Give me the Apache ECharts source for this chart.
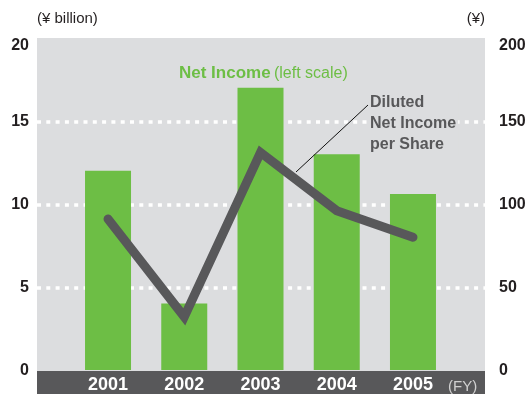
<!DOCTYPE html>
<html>
<head>
<meta charset="utf-8">
<script src="https://cdn.jsdelivr.net/npm/echarts@6/dist/echarts.min.js"></script>
<style>
  html, body { margin: 0; padding: 0; background: #ffffff; }
  #chart { width: 529px; height: 394px; }
</style>
</head>
<body>
<div id="chart"></div>
<script>
// Fiscal years on the category axis
const years = ['2001', '2002', '2003', '2004', '2005'];
// Net income, ¥ billion (left scale)
const netIncome = [12.0, 4.0, 17.0, 13.0, 10.6];
// Diluted net income per share, ¥ (right scale)
const epsDiluted = [91, 32, 131, 96, 80];
// Tick settings for both value scales
const leftTicks = { min: 0, max: 20, interval: 5 };
const rightTicks = { min: 0, max: 200, interval: 50 };

const GREEN = '#6dbe45';
const DARK = '#58585a';
const PANEL = '#dcdddf';
const FONT = '"Liberation Sans", Arial, sans-serif';

const chart = echarts.init(document.getElementById('chart'), null, { renderer: 'canvas' });

const tickLabel = {
  color: '#231f20',
  fontFamily: FONT,
  fontSize: 16,
  fontWeight: 'bold',
  verticalAlignMaxLabel: 'top',
  verticalAlignMinLabel: 'middle'
};

chart.setOption({
  animation: false,
  grid: [
    // panel: grey background, gridlines, both value scales
    { left: 37, right: 44, top: 38, bottom: 23, show: true, backgroundColor: PANEL, borderWidth: 0 },
    // plot area holding the bars and the line
    { left: 69.9, right: 77.9, top: 38, bottom: 23 }
  ],
  xAxis: [
    {
      gridIndex: 0, type: 'category', data: years, show: false
    },
    {
      gridIndex: 1, type: 'category', data: years, z: 20,
      axisLine: { show: false }, axisTick: { show: false },
      axisLabel: { color: '#ffffff', fontFamily: FONT, fontSize: 18, fontWeight: 'bold', margin: 6 }
    }
  ],
  yAxis: [
    {
      gridIndex: 0, type: 'value', position: 'left', ...leftTicks,
      name: '(¥ billion)', nameGap: 12,
      nameTextStyle: { align: 'left', color: '#231f20', fontFamily: FONT, fontSize: 15 },
      axisLine: { show: false }, axisTick: { show: false },
      axisLabel: { ...tickLabel, margin: 8 },
      splitLine: { show: true, showMinLine: false, showMaxLine: false,
        lineStyle: { color: '#ffffff', width: 3.5, type: [4, 5.3] } }
    },
    {
      gridIndex: 0, type: 'value', position: 'right', ...rightTicks,
      name: '(¥)', nameGap: 12,
      nameTextStyle: { align: 'right', color: '#231f20', fontFamily: FONT, fontSize: 15 },
      axisLine: { show: false }, axisTick: { show: false },
      axisLabel: { ...tickLabel, margin: 14 },
      splitLine: { show: false }
    },
    { gridIndex: 1, type: 'value', ...leftTicks, show: false, splitLine: { show: false } },
    { gridIndex: 1, type: 'value', ...rightTicks, show: false, splitLine: { show: false } }
  ],
  series: [
    {
      name: 'Net Income', type: 'bar', xAxisIndex: 1, yAxisIndex: 2,
      data: netIncome, barWidth: 46,
      itemStyle: { color: GREEN }
    },
    {
      name: 'Diluted Net Income per Share', type: 'line', xAxisIndex: 1, yAxisIndex: 3,
      data: epsDiluted, showSymbol: false, symbol: 'none',
      lineStyle: { color: DARK, width: 9, cap: 'round', join: 'miter' },
      z: 5
    }
  ],
  graphic: [
    // dark base band under the panel, carrying the year labels
    {
      type: 'rect', z: 1,
      shape: { x: 37, y: 371, width: 448, height: 23 },
      style: { fill: DARK }
    },
    {
      type: 'text', left: 179, top: 65,
      style: {
        text: '{a|Net Income} {b|(left scale)}',
        rich: {
          a: { fill: GREEN, fontFamily: FONT, fontSize: 17, fontWeight: 'bold' },
          b: { fill: GREEN, fontFamily: FONT, fontSize: 16 }
        }
      }
    },
    {
      type: 'text', left: 370, top: 92, z: 12,
      style: {
        text: 'Diluted\nNet Income\nper Share',
        fill: DARK, fontFamily: FONT, fontSize: 16, fontWeight: 'bold', lineHeight: 21,
        backgroundColor: PANEL, padding: [0, 2, 0, 0]
      }
    },
    {
      type: 'line', z: 10,
      shape: { x1: 368, y1: 105, x2: 296, y2: 172 },
      style: { stroke: '#111111', lineWidth: 1 }
    },
    {
      type: 'text', left: 448, top: 379, z: 12,
      style: { text: '(FY)', fill: '#d0d0d0', fontFamily: FONT, fontSize: 15 }
    }
  ]
});
</script>
</body>
</html>
